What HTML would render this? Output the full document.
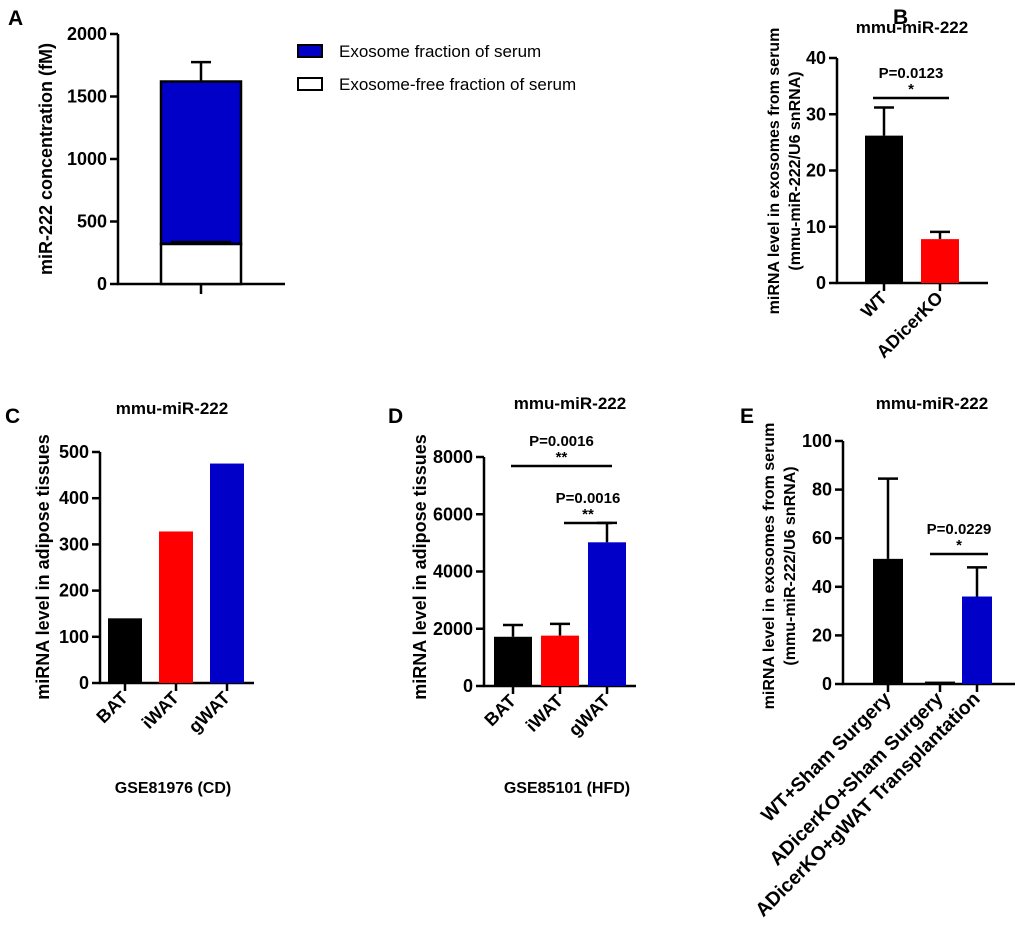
<!DOCTYPE html>
<html><head><meta charset="utf-8"><style>
html,body{margin:0;padding:0;background:#fff}
svg{display:block;font-family:"Liberation Sans",Arial,sans-serif;font-weight:bold}
</style></head><body>
<svg id="fig" width="1020" height="947" viewBox="0 0 1020 947">
<text x="8" y="25" font-size="21">A</text>
<text x="893" y="24" font-size="21">B</text>
<text x="5" y="423" font-size="21">C</text>
<text x="388" y="423" font-size="21">D</text>
<text x="740" y="423" font-size="21">E</text>
<text x="912" y="33" font-size="17" text-anchor="middle">mmu-miR-222</text>
<text x="172" y="414" font-size="17" text-anchor="middle">mmu-miR-222</text>
<text x="570" y="409" font-size="17" text-anchor="middle">mmu-miR-222</text>
<text x="932" y="409" font-size="17" text-anchor="middle">mmu-miR-222</text>
<text x="173" y="793" font-size="16" text-anchor="middle">GSE81976 (CD)</text>
<text x="567" y="793" font-size="16" text-anchor="middle">GSE85101 (HFD)</text>
<text transform="translate(52,159) rotate(-90)" font-size="18" text-anchor="middle">miR-222 concentration (fM)</text>
<text transform="translate(779,171) rotate(-90)" font-size="16" text-anchor="middle">miRNA level in exosomes from serum</text>
<text transform="translate(800,171) rotate(-90)" font-size="16" text-anchor="middle">(mmu-miR-222/U6 snRNA)</text>
<text transform="translate(49,567) rotate(-90)" font-size="18" text-anchor="middle">miRNA level in adipose tissues</text>
<text transform="translate(426,567) rotate(-90)" font-size="18" text-anchor="middle">miRNA level in adipose tissues</text>
<text transform="translate(774,566) rotate(-90)" font-size="16" text-anchor="middle">miRNA level in exosomes from serum</text>
<text transform="translate(795,566) rotate(-90)" font-size="16" text-anchor="middle">(mmu-miR-222/U6 snRNA)</text>
<rect x="298" y="45" width="24" height="12" fill="#0000c8" stroke="#000" stroke-width="2"/>
<rect x="298" y="78" width="24" height="12" fill="#fff" stroke="#000" stroke-width="2"/>
<text x="339" y="57" font-size="17" font-weight="normal">Exosome fraction of serum</text>
<text x="339" y="90" font-size="17" font-weight="normal">Exosome-free fraction of serum</text>
</svg>
<script>
// Panel A data
const aFreeVal = 320, aFreeErr = 335, aExoVal = 1620, aExoErr = 1775;
const aTicks = [0,500,1000,1500,2000];
// Panel B
const bCats = ["WT","ADicerKO"];
const bVals = [26.2,7.8];
const bErrs = [31.2,9.1];
const bTicks = [0,10,20,30,40];
// Panel C
const cCats = ["BAT","iWAT","gWAT"];
const cVals = [140,328,475];
const cTicks = [0,100,200,300,400,500];
// Panel D
const dCats = ["BAT","iWAT","gWAT"];
const dVals = [1720,1760,5020];
const dErrs = [2130,2170,5700];
const dTicks = [0,2000,4000,6000,8000];
// Panel E
const eCats = ["WT+Sham Surgery","ADicerKO+Sham Surgery","ADicerKO+gWAT Transplantation"];
const eVals = [51.5,1,36];
const eErrs = [84.5,1,48];
const eTicks = [0,20,40,60,80,100];
const colors3 = ["#000","#ff0000","#0000c8"];

const svg = document.getElementById('fig');
const NS = "http://www.w3.org/2000/svg";
function el(tag, attrs, parent){const e=document.createElementNS(NS,tag);for(const k in attrs)e.setAttribute(k,attrs[k]);(parent||svg).appendChild(e);return e;}
function line(x1,y1,x2,y2,name){const e=el('line',{x1,y1,x2,y2,stroke:'#000','stroke-width':2.5});


return e;}
function txt(x,y,s,size,anchor,name,extra){const e=el('text',Object.assign({x,y,'font-size':size,'text-anchor':anchor},extra||{}));e.textContent=s;


return e;}

function axis(p){
  const sy=v=>p.y0-(v/p.max)*(p.y0-p.yTop);
  line(p.x0,p.yTop,p.x0,p.y0+1,p.prefix+'-y-axis');
  line(p.x0-1,p.y0,p.xEnd,p.y0,p.prefix+'-x-axis');
  p.ticks.forEach(t=>{const y=sy(t);line(p.x0-8,y,p.x0,y,p.prefix+'-y-tick');
    txt(p.x0-11,y+6,String(t),p.fs||17,'end',p.prefix+'-y-tick-label');});
  return sy;
}
function bars(p,sy,cats,vals,errs,cols,xs,w,labelFs){
  cats.forEach((c,i)=>{const x=xs[i];const y=sy(vals[i]);
    if(errs){const ye=sy(errs[i]);line(x+w/2,y,x+w/2,ye,p.prefix+'-error-bar');line(x+w/2-10,ye,x+w/2+10,ye,p.prefix+'-error-cap');}
    const r=el('rect',{x,y,width:w,height:p.y0-y,fill:cols[i]});
    
    
    const cx=x+w/2;line(cx,p.y0,cx,p.y0+8,p.prefix+'-x-tick');
    txt(cx+4,p.y0+16,c,labelFs||16,'end',p.prefix+'-x-label',{transform:`rotate(-45 ${cx+4} ${p.y0+16})`});
  });
}
function sig(x1,x2,y,pt,star,name){line(x1,y,x2,y,name+'-line');
  txt((x1+x2)/2,y-20,pt,15,'middle',name+'-p');txt((x1+x2)/2,y-4,star,15,'middle',name+'-star');}

// Panel A
{const p={x0:118,xEnd:285,y0:284,yTop:34,max:2000,ticks:aTicks,prefix:'panel-a',fs:18};
 const sy=axis(p);
 const ye=sy(aExoErr),yb=sy(aExoVal),yf=sy(aFreeVal),yfe=sy(aFreeErr);
 line(201,yb,201,ye,'panel-a-error-bar');line(191,ye,211,ye,'panel-a-error-cap');
 let r=el('rect',{x:161,y:yb,width:80,height:yf-yb,fill:'#0000c8',stroke:'#000','stroke-width':2.5});
 
 
 r=el('rect',{x:161,y:yf,width:80,height:p.y0-yf,fill:'#fff',stroke:'#000','stroke-width':2.5});
 
 
 line(171,yfe,231,yfe,'panel-a-free-error-cap');
 line(201,p.y0,201,p.y0+10,'panel-a-x-tick');
}
// Panel B
{const p={x0:837,xEnd:988,y0:283,yTop:58,max:40,ticks:bTicks,prefix:'panel-b',fs:18};
 const sy=axis(p);bars(p,sy,bCats,bVals,bErrs,["#000","#ff0000"],[865,921],38,18);
 sig(873,949,98,'P=0.0123','*','panel-b-sig');}
// Panel C
{const p={x0:100,xEnd:254,y0:683,yTop:452,max:500,ticks:cTicks,prefix:'panel-c',fs:18};
 const sy=axis(p);bars(p,sy,cCats,cVals,null,colors3,[108,159,210],34,18);}
// Panel D
{const p={x0:484,xEnd:636,y0:686,yTop:457,max:8000,ticks:dTicks,prefix:'panel-d',fs:18};
 const sy=axis(p);bars(p,sy,dCats,dVals,dErrs,colors3,[494,541,588],38,18);
 sig(511,612,466,'P=0.0016','**','panel-d-sig-1');sig(564,612,523,'P=0.0016','**','panel-d-sig-2');}
// Panel E
{const p={x0:843,xEnd:1015,y0:684,yTop:441,max:100,ticks:eTicks,prefix:'panel-e',fs:18};
 const xs=[873,925,962];
 const sy=axis(p);bars(p,sy,eCats,eVals,null,["#000","#000","#0000c8"],xs,30,19.5);
 [0,2].forEach(i=>{const cx=xs[i]+15;const y=sy(eVals[i]),ye=sy(eErrs[i]);
   line(cx,y,cx,ye,'panel-e-error-bar');line(cx-10,ye,cx+10,ye,'panel-e-error-cap');});
 sig(930,988,554,'P=0.0229','*','panel-e-sig');}
</script>
</body></html>
